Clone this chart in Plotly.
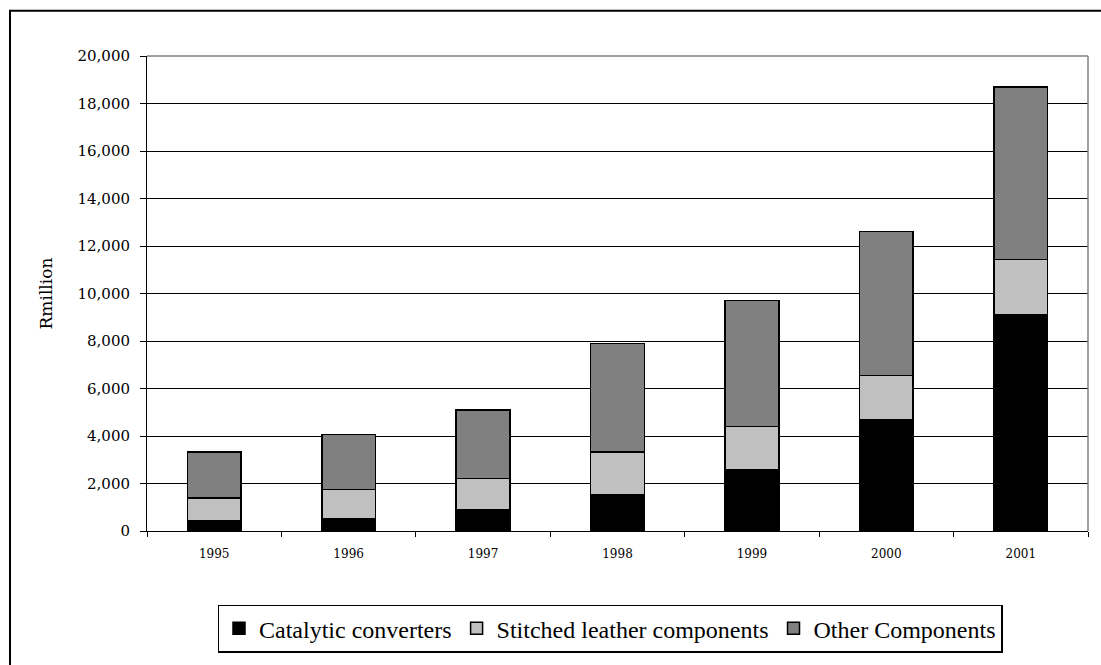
import plotly.graph_objects as go

years = ["1995", "1996", "1997", "1998", "1999", "2000", "2001"]
catalytic = [440, 530, 875, 1530, 2600, 4680, 9090]
stitched = [950, 1210, 1345, 1790, 1810, 1870, 2350]
other = [1940, 2330, 2880, 4580, 5290, 6060, 7260]

series_names = ["Catalytic converters", "Stitched leather components", "Other Components"]
series_colors = ["#000000", "#C0C0C0", "#808080"]
series_values = [catalytic, stitched, other]

W, H = 1101, 665
L, T = 147, 56
R = W - 1088
B = H - 539
pw, ph = W - L - R, H - T - B

def px_x(p):
    return (p - L) / pw

def px_y(p):
    return (H - B - p) / ph

fig = go.Figure()
for name, color, vals in zip(series_names, series_colors, series_values):
    fig.add_trace(go.Bar(
        x=years, y=vals, name=name,
        marker=dict(color=color, line=dict(color="#000000", width=1.5)),
    ))

fig.update_layout(
    width=W, height=H,
    margin=dict(l=L, r=R, t=T, b=B),
    barmode="stack", bargap=0.6,
    plot_bgcolor="white", paper_bgcolor="white",
    font=dict(family="DejaVu Serif", color="#000000"),
    showlegend=True,
    legend=dict(
        orientation="h", x=px_x(610), xanchor="center", y=px_y(614), yanchor="top",
        font=dict(family="Liberation Serif", size=24, color="#000000"),
        bordercolor="#000000", borderwidth=1.5, bgcolor="white",
        itemwidth=30, traceorder="normal",
    ),
    xaxis=dict(
        showline=True, linecolor="#000000", linewidth=1,
        ticks="outside", ticklen=5, tickcolor="#000000", tickson="boundaries",
        tickfont=dict(family="DejaVu Serif", size=12),
        ticklabelstandoff=12,
        showgrid=False,
    ),
    yaxis=dict(
        range=[0, 20000], dtick=2000, tickformat=",",
        showline=True, linecolor="#000000", linewidth=1,
        ticks="outside", ticklen=6, tickcolor="#000000",
        tickfont=dict(family="DejaVu Serif", size=15),
        ticklabelstandoff=7,
        showgrid=True, gridcolor="#000000", gridwidth=1,
        title=dict(text="Rmillion", font=dict(family="DejaVu Serif", size=17), standoff=20),
        zeroline=False,
    ),
    shapes=[
        dict(type="line", xref="paper", yref="paper", x0=0, x1=1, y0=1, y1=1,
             line=dict(color="#808080", width=1.5), layer="above"),
        dict(type="line", xref="paper", yref="paper", x0=1, x1=1, y0=0, y1=1,
             line=dict(color="#808080", width=1.5), layer="above"),
        dict(type="rect", xref="paper", yref="paper",
             x0=px_x(10), x1=px_x(1130), y0=px_y(700), y1=px_y(10),
             line=dict(color="#000000", width=2), layer="below"),
    ],
)

fig.write_html(
    "out.html",
    config={"displayModeBar": False},
    post_script="document.body.style.margin='0px';document.body.style.overflow='hidden';",
)
